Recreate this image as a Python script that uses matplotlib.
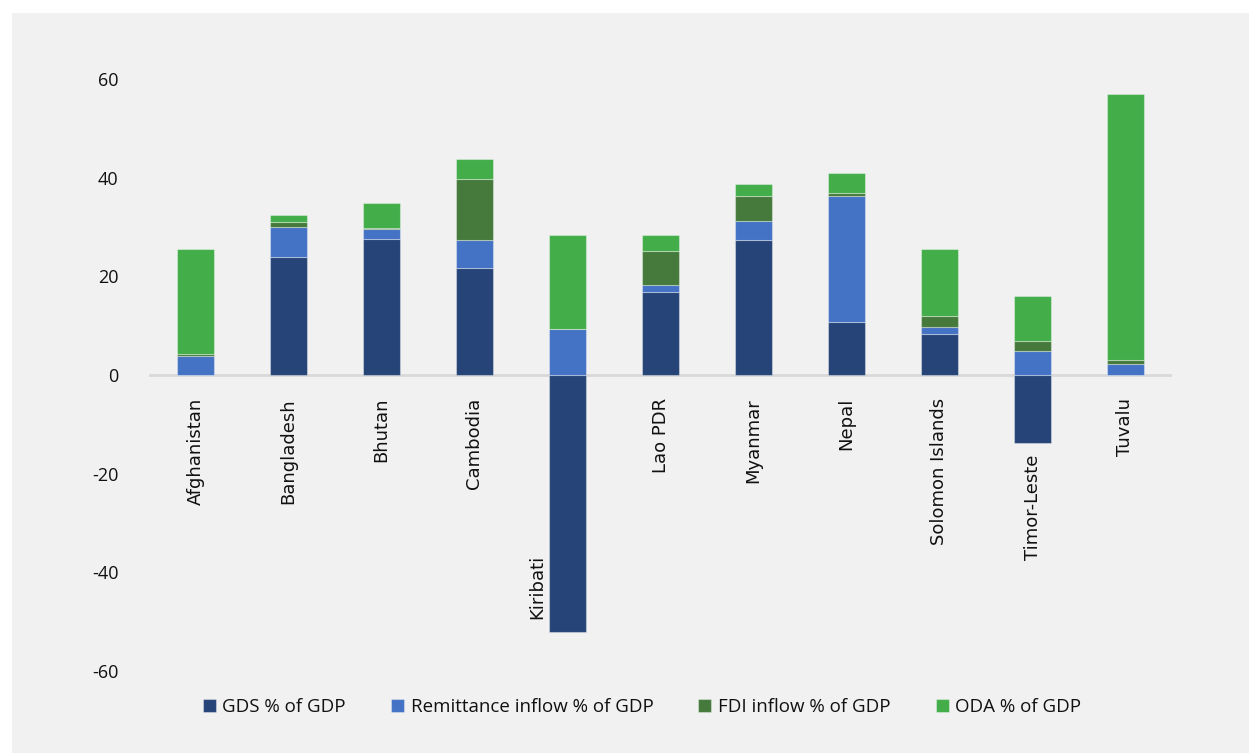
import numpy as np
import matplotlib
matplotlib.use('Agg')
from matplotlib import pyplot as plt
from matplotlib.patches import Rectangle

countries = ['Afghanistan', 'Bangladesh', 'Bhutan', 'Cambodia', 'Kiribati', 'Lao PDR',
             'Myanmar', 'Nepal', 'Solomon Islands', 'Timor-Leste', 'Tuvalu']

# shares of GDP, %
gds = [0.0, 24.0, 27.6, 21.6, -52.0, 16.9, 27.4, 10.8, 8.4, -13.8, 0.0]
remittance = [3.8, 6.1, 1.9, 5.8, 9.4, 1.4, 3.8, 25.5, 1.4, 4.9, 2.3]
fdi = [0.4, 1.0, 0.2, 12.4, 0.0, 6.9, 5.0, 0.5, 2.2, 2.0, 0.8]
oda = [21.4, 1.3, 5.1, 3.9, 18.9, 3.2, 2.5, 4.2, 13.6, 9.2, 53.9]

series_names = ['GDS % of GDP', 'Remittance inflow % of GDP', 'FDI inflow % of GDP', 'ODA % of GDP']
colors = ['#264478', '#4472C4', '#467A3C', '#43AD4A']

plt.rcParams['font.family'] = ['Open Sans', 'DejaVu Sans']
plt.rcParams['axes.unicode_minus'] = False

fig = plt.figure(figsize=(12.49, 7.53), dpi=100)
fig.patch.set_facecolor('white')
fig.patches.append(Rectangle((12 / 1249, 0), 1, (753 - 13) / 753, transform=fig.transFigure,
                             facecolor='#f1f1f1', edgecolor='none', zorder=-10))

ax = fig.add_axes([149 / 1249, (753 - 671) / 753, 1023 / 1249, 592 / 753])
ax.set_facecolor('none')

x = np.arange(len(countries))
gds = np.array(gds)
edge = (1, 1, 1, 0.35)

# GDS goes below zero for some countries, the inflows stack upward from zero
ax.bar(x, gds, 0.4, color=colors[0], edgecolor=edge, linewidth=0.8, label=series_names[0], zorder=3)
bottom = np.clip(gds, 0, None)
for vals, col, name in zip([remittance, fdi, oda], colors[1:], series_names[1:]):
    vals = np.array(vals)
    ax.bar(x, vals, 0.4, bottom=bottom, color=col, edgecolor=edge, linewidth=0.8, label=name, zorder=3)
    bottom = bottom + vals

ax.axhline(0, color='#d9d9d9', linewidth=2, zorder=2)

ax.set_xlim(-0.5, len(countries) - 0.5)
ax.set_ylim(-60, 60)
ax.set_yticks(np.arange(-60, 61, 20))
ax.tick_params(axis='y', length=0, pad=22, labelsize=13, labelcolor='#111111')
ax.set_xticks([])
for s in ax.spines.values():
    s.set_visible(False)

# category names hang under the zero line, or under the bar end when GDS is negative
label_kw = dict(textcoords='offset points', rotation=90, ha='center', fontsize=13,
                family='DejaVu Sans', color='#111111')
for i, name in enumerate(countries):
    if gds[i] < -40:
        ax.annotate(name, (i, gds[i]), xytext=(-22, 9), va='bottom', **label_kw)
    elif gds[i] < 0:
        ax.annotate(name, (i, gds[i]), xytext=(0, -8), va='top', **label_kw)
    else:
        ax.annotate(name, (i, 0), xytext=(0, -16.5), va='top', **label_kw)

fig.legend(loc='center', bbox_to_anchor=(0.514, (753 - 707) / 753), ncol=4, frameon=False,
           fontsize=13.5, handlelength=0.7, handleheight=0.7, handletextpad=0.35,
           columnspacing=2.4, labelcolor='#111111')

plt.savefig('out.png', dpi=100)
